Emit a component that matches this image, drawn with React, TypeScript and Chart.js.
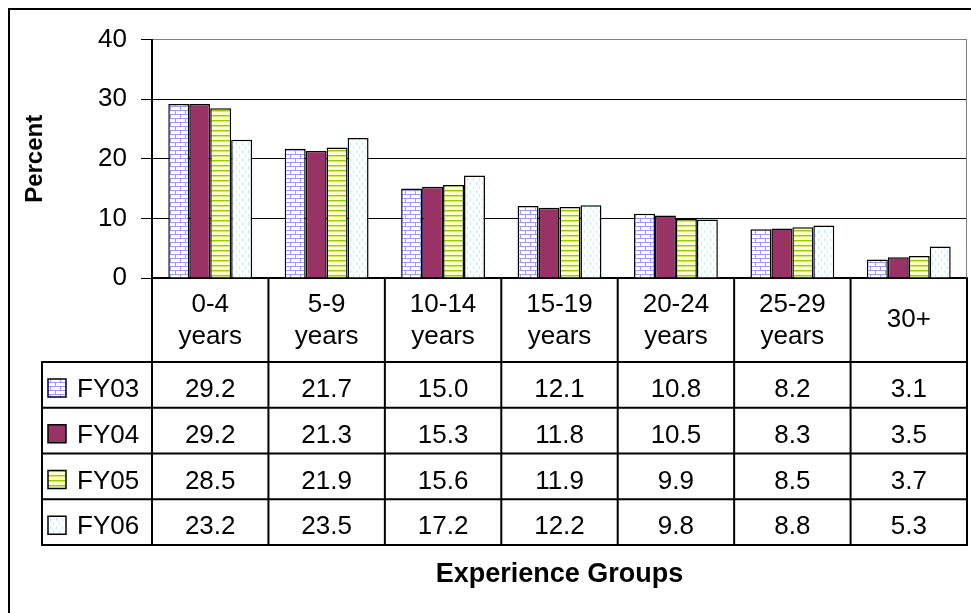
import React, { useEffect, useRef } from "react";
import { Chart, registerables } from "chart.js";

Chart.register(...registerables);

// ---- data ----
const categories: string[][] = [
  ["0-4", "years"],
  ["5-9", "years"],
  ["10-14", "years"],
  ["15-19", "years"],
  ["20-24", "years"],
  ["25-29", "years"],
  ["30+"],
];
const seriesNames = ["FY03", "FY04", "FY05", "FY06"];
const fy03 = [29.2, 21.7, 15.0, 12.1, 10.8, 8.2, 3.1];
const fy04 = [29.2, 21.3, 15.3, 11.8, 10.5, 8.3, 3.5];
const fy05 = [28.5, 21.9, 15.6, 11.9, 9.9, 8.5, 3.7];
const fy06 = [23.2, 23.5, 17.2, 12.2, 9.8, 8.8, 5.3];
const yMin = 0;
const yMax = 40;
const yStep = 10;
const yTitle = "Percent";
const xTitle = "Experience Groups";

const seriesValues = [fy03, fy04, fy05, fy06];

const FONT = '"Liberation Sans", Arial, sans-serif';

function makePattern(w: number, h: number, draw: (g: CanvasRenderingContext2D) => void) {
  const c = document.createElement("canvas");
  c.width = w;
  c.height = h;
  const g = c.getContext("2d")!;
  draw(g);
  return g.createPattern(c, "repeat")!;
}

function makeFills(): (string | CanvasPattern)[] {
  const brick = makePattern(10, 8, (g) => {
    g.fillStyle = "#ffffff";
    g.fillRect(0, 0, 10, 8);
    g.fillStyle = "#9999ff";
    g.fillRect(0, 0, 10, 1);
    g.fillRect(0, 4, 10, 1);
    g.fillRect(0, 1, 1, 3);
    g.fillRect(5, 5, 1, 3);
  });
  const stripes = makePattern(4, 5, (g) => {
    g.fillStyle = "#ffffcc";
    g.fillRect(0, 0, 4, 5);
    g.fillStyle = "#99cc00";
    g.fillRect(0, 0, 4, 1);
    g.fillStyle = "#d2e870";
    g.fillRect(0, 1, 4, 1);
  });
  const dashes = makePattern(6, 8, (g) => {
    g.fillStyle = "#ffffff";
    g.fillRect(0, 0, 6, 8);
    g.fillStyle = "#b8f2f2";
    g.fillRect(1, 0, 1, 3);
    g.fillRect(4, 4, 1, 3);
  });
  return [brick, "#993366", stripes, dashes];
}

function line(ctx: CanvasRenderingContext2D, x1: number, y1: number, x2: number, y2: number) {
  ctx.beginPath();
  ctx.moveTo(x1, y1);
  ctx.lineTo(x2, y2);
  ctx.stroke();
}

function makeTablePlugin(fills: (string | CanvasPattern)[]) {
  return {
    id: "dataTable",
    afterDraw(chart: any) {
      const ctx: CanvasRenderingContext2D = chart.ctx;
      const a = chart.chartArea;
      const xs = chart.scales.x;
      const n = categories.length;
      const step = xs.getPixelForValue(1) - xs.getPixelForValue(0);
      const edges: number[] = [];
      for (let i = 0; i <= n; i++) edges.push(xs.getPixelForValue(0) - step / 2 + i * step);
      const labelH = 84;
      const rowH = 45.75;
      const tTop = a.bottom + labelH;
      const tBottom = tTop + rowH * seriesNames.length;
      const tLeft = 32;

      ctx.save();
      // plot area right border (grey)
      ctx.strokeStyle = "#808080";
      ctx.lineWidth = 1;
      line(ctx, a.right - 0.5, a.top, a.right - 0.5, a.bottom);

      // table grid
      ctx.strokeStyle = "#000";
      ctx.lineWidth = 2;
      for (let i = 0; i <= n; i++) line(ctx, edges[i], a.bottom, edges[i], tBottom);
      line(ctx, tLeft, tTop, tLeft, tBottom);
      for (let r = 0; r <= seriesNames.length; r++) {
        const y = tTop + r * rowH;
        line(ctx, tLeft - 1, y, edges[n] + 1, y);
      }

      // category labels
      ctx.fillStyle = "#000";
      ctx.font = `26px ${FONT}`;
      ctx.textAlign = "center";
      ctx.textBaseline = "alphabetic";
      for (let i = 0; i < n; i++) {
        const cx = (edges[i] + edges[i + 1]) / 2;
        const lines = categories[i];
        if (lines.length === 1) {
          ctx.fillText(lines[0], cx, a.bottom + 49);
        } else {
          ctx.fillText(lines[0], cx, a.bottom + 34);
          ctx.fillText(lines[1], cx, a.bottom + 66);
        }
      }

      // rows
      for (let r = 0; r < seriesNames.length; r++) {
        const rowTop = tTop + r * rowH;
        // legend key
        ctx.fillStyle = fills[r] as any;
        ctx.fillRect(38, rowTop + 17, 18, 18);
        ctx.strokeStyle = "#000";
        ctx.lineWidth = 1.5;
        ctx.strokeRect(38, rowTop + 17, 18, 18);
        ctx.fillStyle = "#000";
        ctx.textAlign = "left";
        ctx.fillText(seriesNames[r], 67, rowTop + 35);
        ctx.textAlign = "center";
        for (let i = 0; i < n; i++) {
          const cx = (edges[i] + edges[i + 1]) / 2;
          ctx.fillText(seriesValues[r][i].toFixed(1), cx, rowTop + 35);
        }
      }

      // axis titles
      ctx.font = `bold 27px ${FONT}`;
      ctx.textAlign = "center";
      ctx.fillText(xTitle, (a.left + a.right) / 2, 572);

      ctx.save();
      ctx.font = `bold 24px ${FONT}`;
      ctx.translate(32, (a.top + a.bottom) / 2);
      ctx.rotate(-Math.PI / 2);
      ctx.textAlign = "center";
      ctx.fillText(yTitle, 0, 0);
      ctx.restore();

      ctx.restore();
    },
  };
}

export default function App() {
  const ref = useRef<HTMLCanvasElement>(null);

  useEffect(() => {
    const canvas = ref.current;
    if (!canvas) return;
    const fills = makeFills();
    const chart = new Chart(canvas, {
      type: "bar",
      data: {
        labels: categories.map((c) => c.join(" ")),
        datasets: seriesNames.map((name, i) => ({
          label: name,
          data: seriesValues[i],
          backgroundColor: fills[i] as any,
          borderColor: "#000",
          borderWidth: 1.5,
          categoryPercentage: 0.72,
          barPercentage: 1,
        })),
      },
      options: {
        responsive: false,
        animation: false,
        devicePixelRatio: 1,
        layout: { padding: { left: 0, right: 4, top: 24, bottom: 0 } },
        plugins: {
          legend: { display: false },
          tooltip: { enabled: false },
          title: { display: false },
        },
        scales: {
          x: {
            grid: { display: false },
            ticks: { display: false },
            border: { display: true, color: "#000", width: 2 },
            afterFit: (s: any) => {
              s.height = 335;
            },
          },
          y: {
            min: yMin,
            max: yMax,
            ticks: {
              stepSize: yStep,
              padding: 14,
              color: "#000",
              font: { family: FONT, size: 26 },
            },
            grid: {
              color: (c: any) => (c.tick && c.tick.value === yMax ? "#808080" : "#000"),
              lineWidth: 1,
              tickLength: 11,
              tickColor: "#000",
            },
            border: { display: true, color: "#000", width: 2 },
            afterFit: (s: any) => {
              s.width = 142;
            },
          },
        },
      },
      plugins: [makeTablePlugin(fills)],
    });
    return () => chart.destroy();
  }, []);

  return (
    <div
      style={{
        position: "fixed",
        left: 0,
        top: 0,
        width: 971,
        height: 613,
        overflow: "hidden",
        background: "#fff",
      }}
    >
      <div
        style={{
          position: "absolute",
          left: 8,
          top: 8,
          width: 963,
          height: 605,
          boxSizing: "border-box",
          borderLeft: "2px solid #000",
          borderTop: "2px solid #000",
        }}
      >
        <canvas ref={ref} width={961} height={603} style={{ display: "block", width: 961, height: 603 }} />
      </div>
    </div>
  );
}
